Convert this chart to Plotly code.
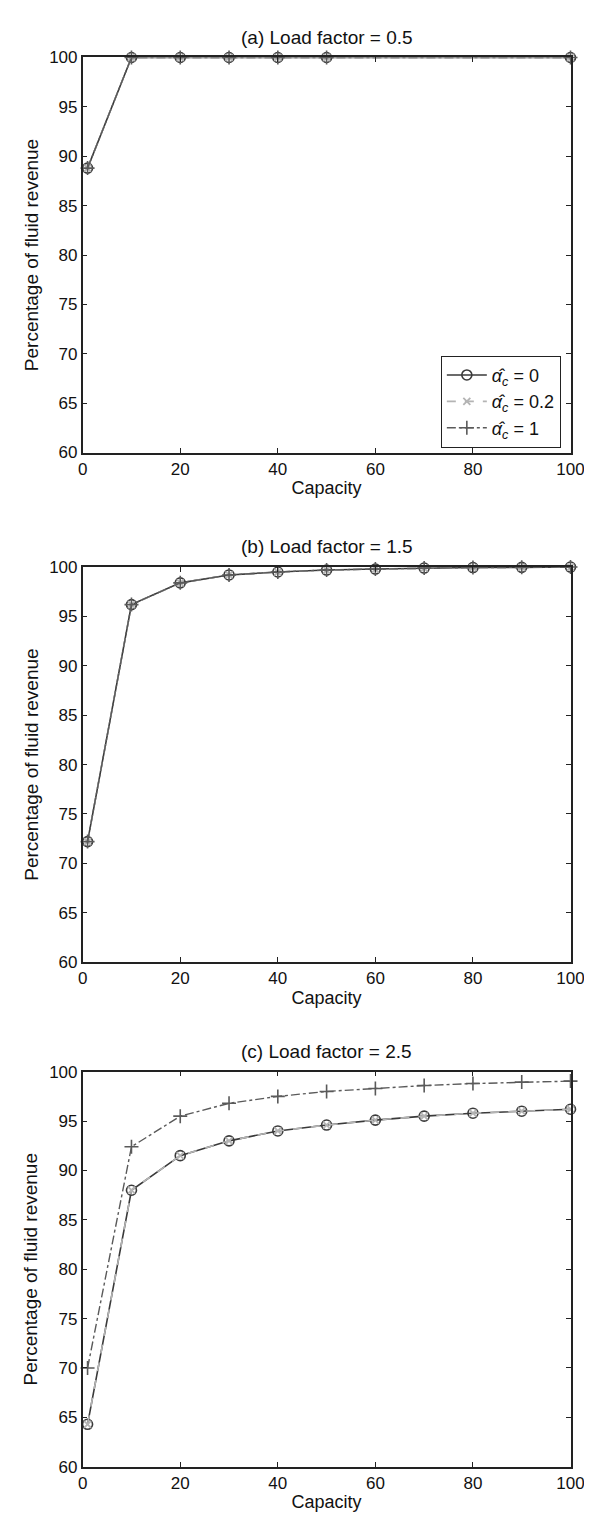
import plotly.graph_objects as go

# ---- data ----
cap_a = [1, 10, 20, 30, 40, 50, 100]
a_alpha0 = [88.8, 100, 100, 100, 100, 100, 100]
a_alpha02 = [88.8, 100, 100, 100, 100, 100, 100]
a_alpha1 = [88.8, 100, 100, 100, 100, 100, 100]

cap_bc = [1, 10, 20, 30, 40, 50, 60, 70, 80, 90, 100]
b_alpha0 = [72.2, 96.2, 98.4, 99.2, 99.5, 99.7, 99.8, 99.9, 99.95, 99.97, 100]
b_alpha02 = [72.2, 96.2, 98.4, 99.2, 99.5, 99.7, 99.8, 99.9, 99.95, 99.97, 100]
b_alpha1 = [72.2, 96.2, 98.4, 99.2, 99.5, 99.7, 99.8, 99.9, 99.95, 99.97, 100]

c_alpha0 = [64.3, 88.0, 91.5, 93.0, 94.0, 94.6, 95.1, 95.5, 95.8, 96.0, 96.2]
c_alpha02 = [64.3, 88.0, 91.5, 93.0, 94.0, 94.6, 95.1, 95.5, 95.8, 96.0, 96.2]
c_alpha1 = [70.0, 92.4, 95.5, 96.8, 97.5, 98.0, 98.3, 98.6, 98.8, 98.95, 99.05]

titles = ["(a) Load factor = 0.5", "(b) Load factor = 1.5", "(c) Load factor = 2.5"]
legend_names = ["<i>α̂</i><sub><i>c</i></sub> = 0", "<i>α̂</i><sub><i>c</i></sub> = 0.2",
                "<i>α̂</i><sub><i>c</i></sub> = 1"]
x_ticks = [0, 20, 40, 60, 80, 100]
y_ticks = [60, 65, 70, 75, 80, 85, 90, 95, 100]

W, H = 592, 1528
FONT = "Liberation Sans, Arial, sans-serif"

# pixel layout of plot areas (top, bottom)
panels_px = [(41, 441), (557, 957), (1068, 1468)]
x_left, x_right = 72, 576

panels = [
    (cap_a, a_alpha0, a_alpha02, a_alpha1),
    (cap_bc, b_alpha0, b_alpha02, b_alpha1),
    (cap_bc, c_alpha0, c_alpha02, c_alpha1),
]

fig = go.Figure()
styles = [
    dict(line=dict(color="#3a3a3a", width=1.6, dash="solid"),
         marker=dict(symbol="circle-open", size=10, color="#3a3a3a", line=dict(width=1.6))),
    dict(line=dict(color="#b4b4b4", width=1.6, dash="dash"),
         marker=dict(symbol="x-thin-open", size=7, color="#b4b4b4", line=dict(width=1.8))),
    dict(line=dict(color="#5a5a5a", width=1.4, dash="dashdot"),
         marker=dict(symbol="cross-thin-open", size=10, color="#5a5a5a", line=dict(width=1.6))),
]

for i, (xs, s0, s1, s2) in enumerate(panels):
    ax = "" if i == 0 else str(i + 1)
    for j, ys in enumerate([s0, s1, s2]):
        fig.add_trace(go.Scatter(
            x=xs, y=ys, mode="lines+markers", name=legend_names[j],
            showlegend=(i == 0), xaxis="x" + ax, yaxis="y" + ax,
            cliponaxis=False, **styles[j]))

axis_common = dict(showline=True, linecolor="#222222", linewidth=1.5, mirror="ticks",
                   ticks="inside", ticklen=5, tickwidth=1.2, tickcolor="#222222",
                   showgrid=False, zeroline=False,
                   tickfont=dict(family=FONT, size=17, color="#111111"))

layout = dict(width=W, height=H, margin=dict(l=0, r=0, t=0, b=0),
              paper_bgcolor="white", plot_bgcolor="white",
              font=dict(family=FONT, color="#111111"))

annotations = []
for i, (top, bot) in enumerate(panels_px):
    ax = "" if i == 0 else str(i + 1)
    y0 = (H - bot) / H
    y1 = (H - top) / H
    layout["xaxis" + ax] = dict(
        domain=[x_left / W, x_right / W], range=[0, 100], tickvals=x_ticks,
        anchor="y" + ax,
        title=dict(text="Capacity", font=dict(family=FONT, size=18), standoff=4),
        **axis_common)
    layout["yaxis" + ax] = dict(
        domain=[y0, y1], range=[60, 100], tickvals=y_ticks, anchor="x" + ax,
        title=dict(text="Percentage of fluid revenue", font=dict(family=FONT, size=19), standoff=6),
        **axis_common)
    annotations.append(dict(
        text=titles[i], x=(x_left + x_right) / 2 / W, y=(H - top + 8) / H,
        xref="paper", yref="paper", xanchor="center", yanchor="bottom",
        showarrow=False, font=dict(family=FONT, size=19, color="#111111")))

layout["annotations"] = annotations
layout["legend"] = dict(x=566 / W, y=(H - 343) / H, xanchor="right", yanchor="top",
                        bordercolor="#222222", borderwidth=1, bgcolor="white",
                        font=dict(family=FONT, size=18, color="#111111"),
                        tracegroupgap=0, itemwidth=40)
fig.update_layout(**layout)
fig.write_html("out.html")
